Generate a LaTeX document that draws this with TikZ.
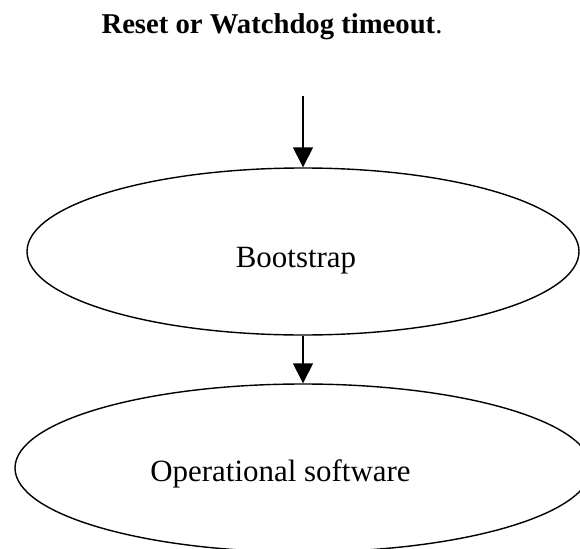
\documentclass[tikz,border=0pt]{standalone}
\usepackage{fontspec}
\setmainfont{Liberation Serif}
\usetikzlibrary{shapes.geometric}
\usetikzlibrary{arrows.meta}

\tikzset{
  state/.style={draw, ellipse, line width=1pt, inner sep=0pt},
  flow/.style={line width=1pt, -{Triangle[length=0.5cm, width=0.5cm]}}
}

\begin{document}
\begin{tikzpicture}
      \useasboundingbox (0, 0) rectangle (14.5, 13.7);
      % heading
      \node[anchor=base, font=\fontsize{20.4}{24}\selectfont] (head) at (6.8, 12.85) {\textbf{Reset or Watchdog timeout}.};
      % the two stages
      \node[state, minimum width=13.8cm, minimum height=4.175cm] (boot) at (7.575, 7.4125) {};
      \node[state, minimum width=14.4cm, minimum height=4.2cm] (ops) at (7.575, 2.0) {};
      \node[anchor=base, font=\fontsize{22}{26}\selectfont] (bootlabel) at (7.4, 7.025) {Bootstrap};
      \node[anchor=base, font=\fontsize{22}{26}\selectfont] (opslabel) at (7.0125, 1.675) {Operational software};
      % arrows
      \coordinate (start) at (7.575, 11.3);
      \draw[flow] (start) -- (boot.north);
      \draw[flow] (boot.south) -- (ops.north);
    \end{tikzpicture}
\end{document}
